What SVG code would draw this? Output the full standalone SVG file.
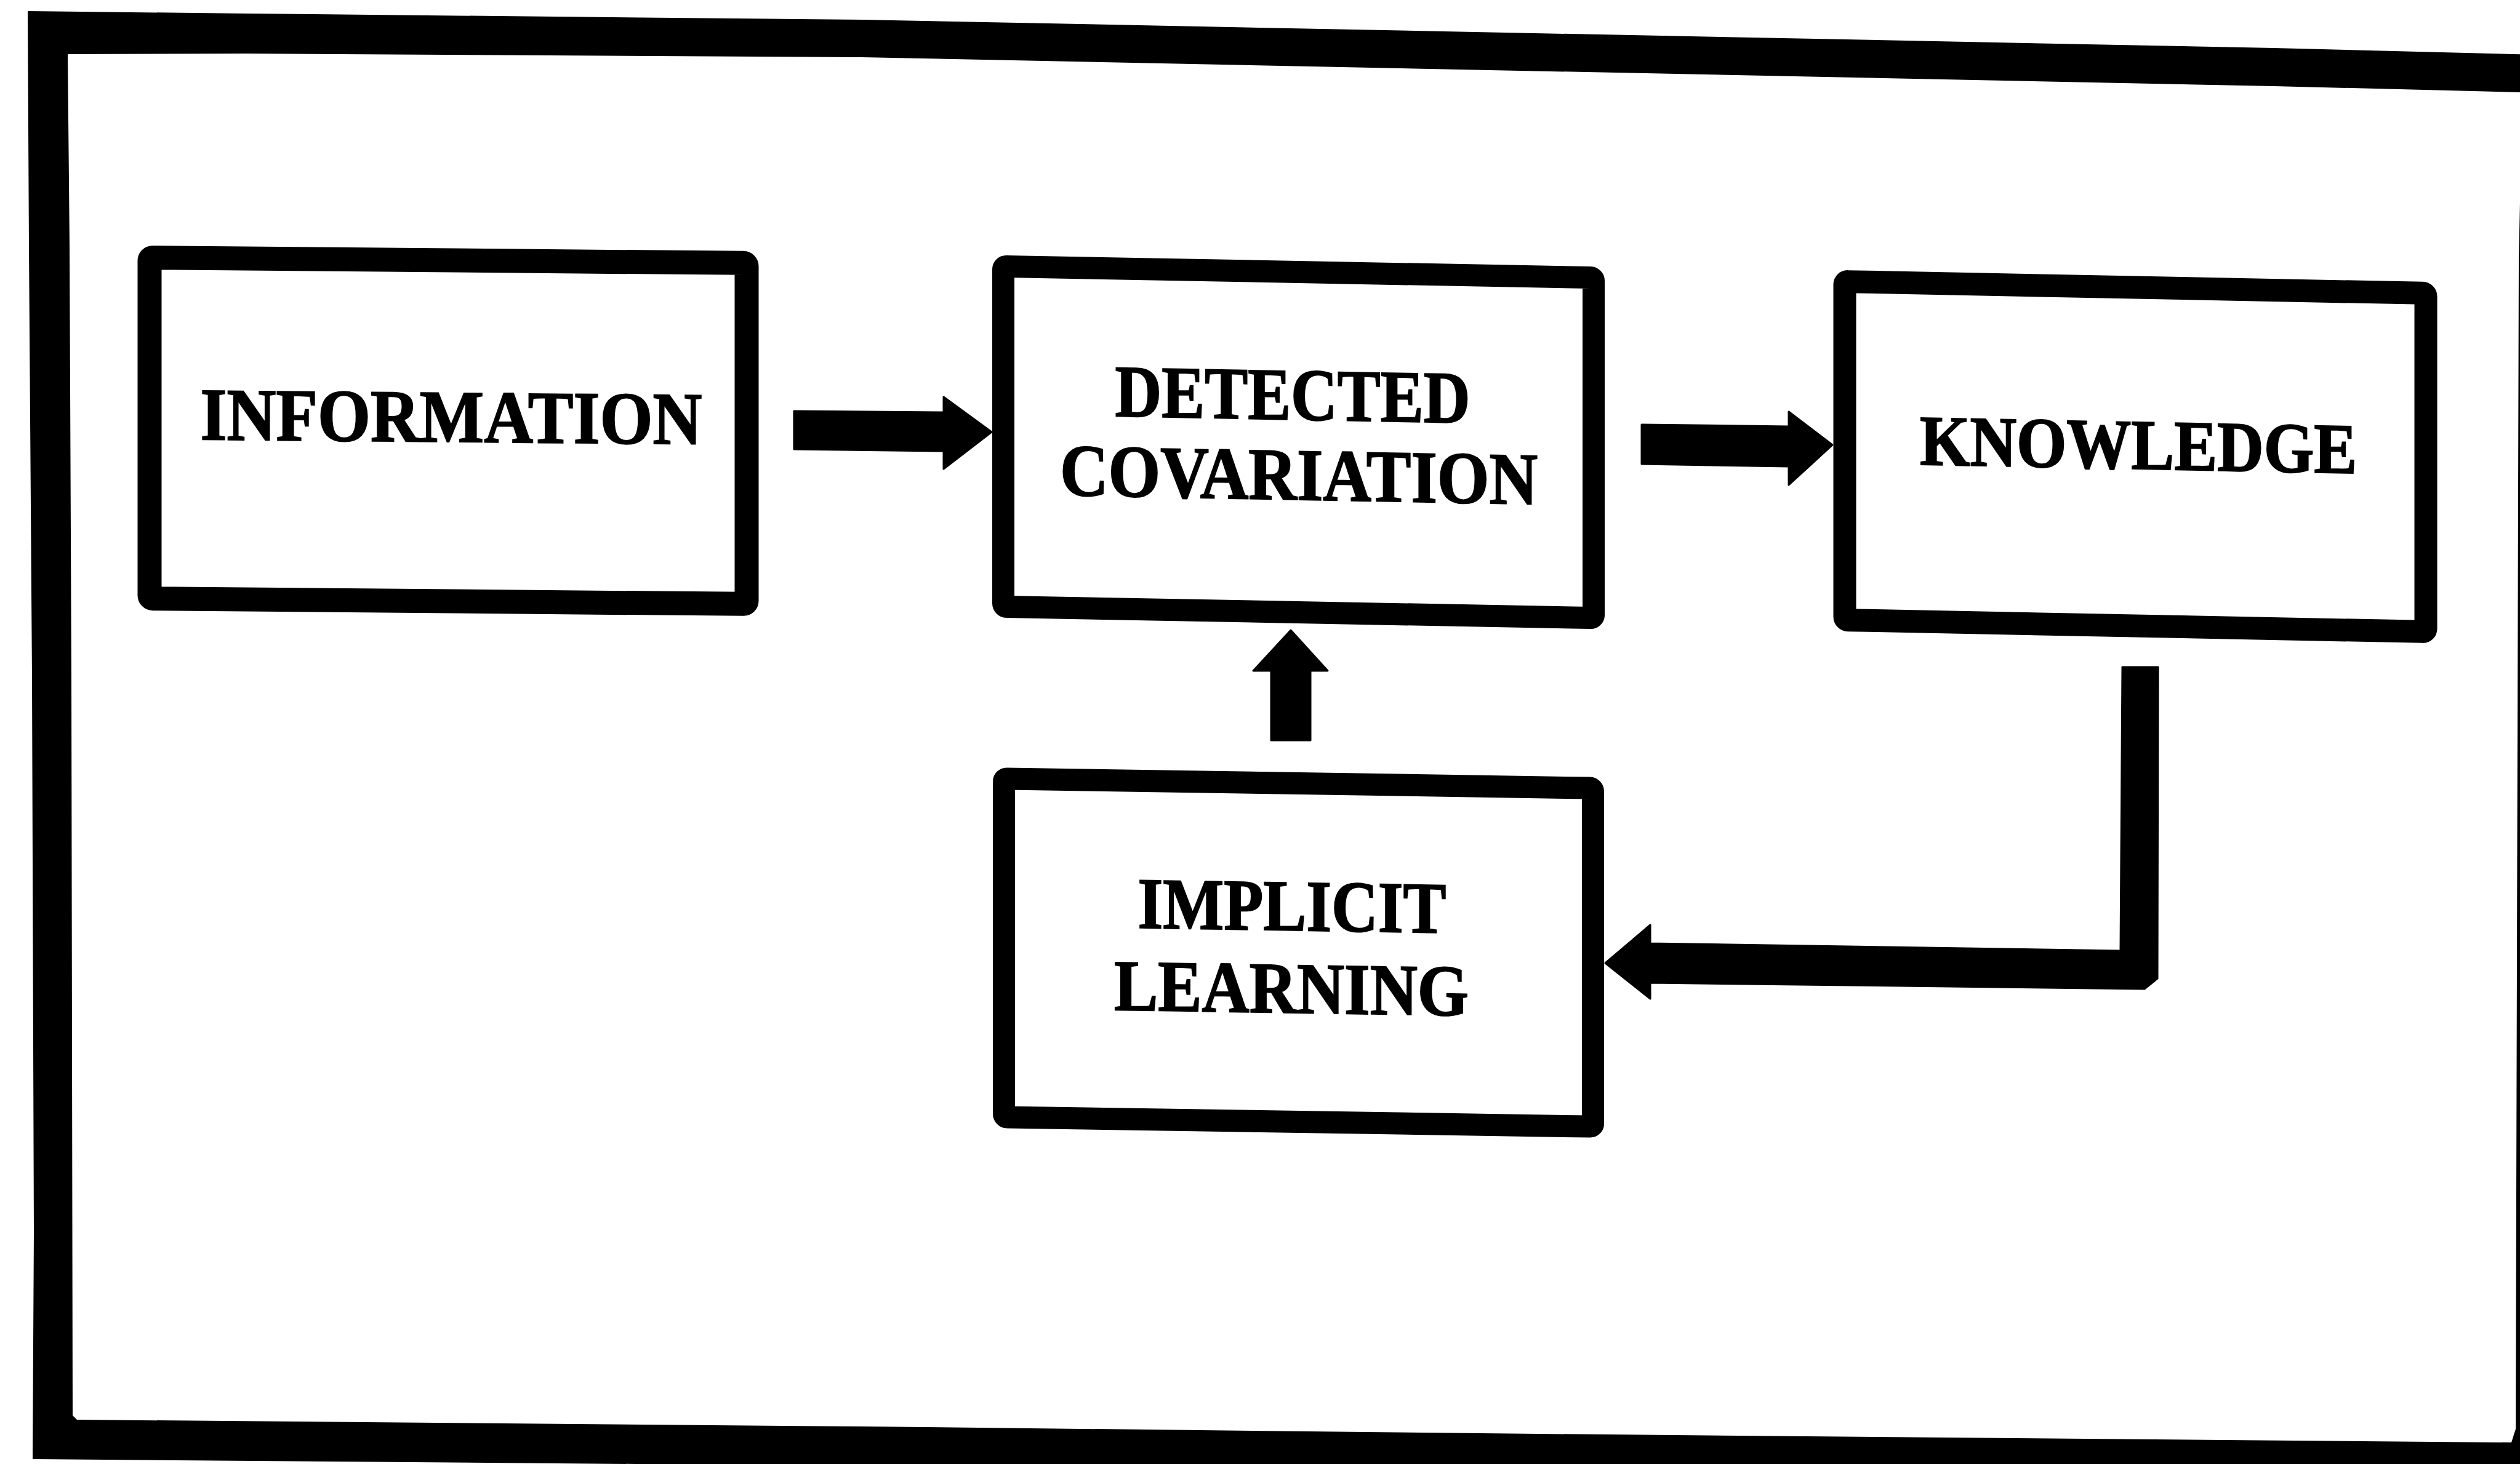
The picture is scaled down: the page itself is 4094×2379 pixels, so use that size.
<svg xmlns="http://www.w3.org/2000/svg" width="4094" height="2379" viewBox="0 0 4094 2379">
  <style>
    .box { fill: #ffffff; stroke: #000000; stroke-linejoin: round; }
    .label { font-family: "Liberation Serif", "Times New Roman", serif; font-weight: bold; fill: #000000; stroke: #000000; stroke-width: 2; text-anchor: middle; }
    .arrow { fill: #000000; stroke: #000000; stroke-width: 3; stroke-linejoin: round; }
  </style>
  <rect x="0" y="0" width="4094" height="2379" fill="#ffffff"/>

  <!-- heavy outer frame -->
  <g id="frame">
    <path fill="#000000" fill-rule="evenodd" d="M45,18 L400,22 L1400,32 L3694,78 L4120,89 L4120,2430 L1400,2382 L53,2371 L55,2000 L52,1100 L47,400 Z
      M110,88 L400,87 L1400,93 L3694,140 L4098,150 L4092,420 L4087,2322 L4080,2344 L3500,2339 L2500,2330 L1400,2318 L125,2307 L118,2300 L116,1100 L113,400 Z"/>
  </g>

  <!-- process boxes -->
  <g id="node-information" transform="translate(728,700) skewY(0.52) translate(-728,-700)">
    <rect class="box" x="243" y="423" width="970" height="554" rx="5" stroke-width="39"/>
    <text class="label" x="733" y="718" font-size="121" textLength="815" lengthAdjust="spacingAndGlyphs">INFORMATION</text>
  </g>

  <g id="node-detected-covariation" transform="translate(2110,719) skewY(1.09) translate(-2110,-719)">
    <rect class="box" x="1630" y="442" width="959" height="553" rx="5" stroke-width="36"/>
    <text class="label" x="2100" y="682" font-size="120" textLength="577" lengthAdjust="spacingAndGlyphs">DETECTED</text>
    <text class="label" x="2110" y="812" font-size="120" textLength="776" lengthAdjust="spacingAndGlyphs">COVARIATION</text>
  </g>

  <g id="node-knowledge" transform="translate(3469,742) skewY(1.15) translate(-3469,-742)">
    <rect class="box" x="2997" y="467" width="944" height="550" rx="5" stroke-width="37"/>
    <text class="label" x="3474" y="762" font-size="116" textLength="710" lengthAdjust="spacingAndGlyphs">KNOWLEDGE</text>
  </g>

  <g id="node-implicit-learning" transform="translate(2110,1548) skewY(0.92) translate(-2110,-1548)">
    <rect class="box" x="1631" y="1273" width="957" height="550" rx="5" stroke-width="36"/>
    <text class="label" x="2099" y="1512" font-size="118" textLength="501" lengthAdjust="spacingAndGlyphs">IMPLICIT</text>
    <text class="label" x="2098" y="1646" font-size="118" textLength="576" lengthAdjust="spacingAndGlyphs">LEARNING</text>
  </g>

  <!-- block arrows -->
  <g id="connectors">
    <polygon class="arrow" points="1290,668 1533,670 1533,645 1611,702 1533,762 1533,733 1290,730"/>
    <polygon class="arrow" points="2667,690 2906,693 2906,669 2977,723 2906,788 2906,758 2667,754"/>
    <polygon class="arrow" points="2097,1024 2157,1090 2129,1090 2129,1203 2065,1203 2065,1090 2036,1090"/>
    <polygon class="arrow" points="3448,1084 3506,1084 3505,1590 3484,1607 2681,1597 2681,1623 2608,1565 2681,1503 2681,1533 3445,1545"/>
  </g>
</svg>
